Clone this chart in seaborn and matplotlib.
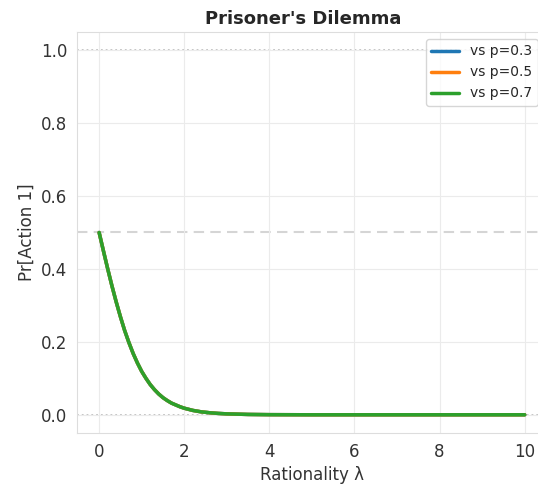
import seaborn as sns
import pandas as pd
import matplotlib.pyplot as plt
import numpy as np

# values (all three curves coincide)
lam = [0.0, 0.1, 0.2, 0.3, 0.4, 0.5, 0.6, 0.7, 0.8, 0.9, 1.0,
       1.1, 1.2, 1.3, 1.4, 1.5, 1.6, 1.7, 1.8, 1.9, 2.0,
       2.2, 2.4, 2.6, 2.8, 3.0, 3.5, 4.0, 5.0, 6.0, 7.0, 8.0, 9.0, 10.0]
pr_action1 = [0.500, 0.450, 0.401, 0.354, 0.310, 0.269, 0.231, 0.198, 0.168, 0.142, 0.119,
              0.100, 0.083, 0.069, 0.057, 0.047, 0.039, 0.032, 0.027, 0.022, 0.018,
              0.012, 0.008, 0.0055, 0.0037, 0.0025, 0.0009, 0.0003, 0.0, 0.0, 0.0, 0.0, 0.0, 0.0]
opponents = ["vs p=0.3", "vs p=0.5", "vs p=0.7"]
colors = ["#1f77b4", "#ff7f0e", "#2ca02c"]

df = pd.concat([pd.DataFrame({"lam": lam, "pr": pr_action1, "opp": o}) for o in opponents])

sns.set_style("whitegrid", {"grid.color": "#ebebeb", "axes.edgecolor": "#dddddd",
                            "text.color": "#262626", "xtick.color": "#333333",
                            "ytick.color": "#333333", "axes.labelcolor": "#333333"})
plt.rcParams["font.family"] = ["DejaVu Sans"]

fig = plt.figure(figsize=(5.38, 4.88), dpi=100)
ax = fig.add_axes([77 / 538, 1 - 433 / 488, 469 / 538, 401 / 488])

sns.lineplot(data=df, x="lam", y="pr", hue="opp", palette=colors, linewidth=2.5, ax=ax)

ax.axhline(0.5, color="#d5d5d5", linestyle=(0, (5, 3)), linewidth=1.5, zorder=0)
ax.axhline(0.0, color="gray", linestyle=":", linewidth=1.3, alpha=0.5, zorder=0)
ax.axhline(1.0, color="gray", linestyle=":", linewidth=1.3, alpha=0.5, zorder=0)

ax.set_xlim(-0.52, 10.5)
ax.set_ylim(-0.05, 1.05)
ax.set_xticks([0, 2, 4, 6, 8, 10])
ax.set_yticks([0.0, 0.2, 0.4, 0.6, 0.8, 1.0])
ax.tick_params(labelsize=12)
ax.set_xlabel("Rationality λ", fontsize=12)
ax.set_ylabel("Pr[Action 1]", fontsize=12)
ax.set_title("Prisoner's Dilemma", fontsize=13, fontweight="bold", x=(303 - 77) / 469)
ax.spines["right"].set_visible(False)

ax.legend(loc="upper right", bbox_to_anchor=(545 / 538, 1 - 32 / 488),
          bbox_transform=fig.transFigure, fontsize=10, title=None)

fig.savefig("out.png", dpi=100)
